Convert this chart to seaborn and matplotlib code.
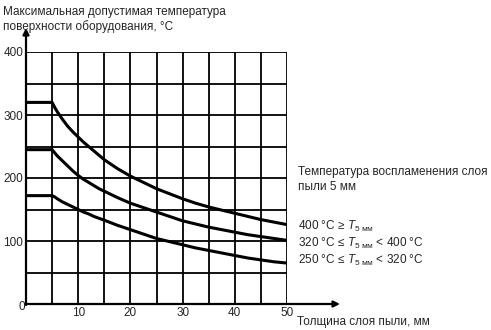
import matplotlib
matplotlib.use("Agg")
import matplotlib.pyplot as plt
import seaborn as sns
import pandas as pd

thickness = [0, 5, 5.5, 6, 7, 8, 9, 10, 11, 12, 13, 14, 15, 17.5, 20, 22.5,
             25, 27.5, 30, 32.5, 35, 37.5, 40, 42.5, 45, 47.5, 50]
t_high = [320, 320, 312, 305, 293, 282, 273, 265, 257, 250, 243, 236, 229, 215,
          203, 193, 183, 175, 167, 160, 154, 149, 144, 139, 134, 130, 126]
t_mid = [245, 245, 240, 235, 227, 219, 211, 204, 198, 193, 188, 183, 179, 169,
         160, 153, 146, 139, 132, 127, 122, 118, 114, 110, 107, 104, 101]
t_low = [172, 172, 170, 167, 162, 158, 154, 150, 146, 143, 139, 136, 133, 125,
         118, 111, 104, 99, 94, 89, 85, 81, 77, 73, 70, 67, 65]
series_names = ["400", "320-400", "250-320"]
legend_labels = [
    r"400 °C ≥ $\mathit{T}_{\mathrm{5\ мм}}$",
    r"320 °C ≤ $\mathit{T}_{\mathrm{5\ мм}}$ < 400 °C",
    r"250 °C ≤ $\mathit{T}_{\mathrm{5\ мм}}$ < 320 °C",
]
x_ticks = [0, 5, 10, 15, 20, 25, 30, 35, 40, 45, 50]
x_labels = ["", "", "10", "", "20", "", "30", "", "40", "", "50"]
y_ticks = [0, 50, 100, 150, 200, 250, 300, 350, 400]
y_labels = ["", "", "100", "", "200", "", "300", "", "400"]

df = pd.concat([
    pd.DataFrame({"x": thickness, "y": vals, "s": name})
    for name, vals in zip(series_names, [t_high, t_mid, t_low])
])

sns.set_style("white")
plt.rcParams["font.family"] = ["Liberation Sans", "DejaVu Sans"]
plt.rcParams["mathtext.fontset"] = "custom"
plt.rcParams["mathtext.rm"] = "Liberation Sans"
plt.rcParams["mathtext.it"] = "Liberation Sans:italic"

fig = plt.figure(figsize=(4.91, 3.30), dpi=100)
ax = fig.add_axes([26/491, 1-304/330, (287-26)/491, (304-52)/330])
sns.lineplot(data=df, x="x", y="y", hue="s", palette=["black"]*3,
             legend=False, ax=ax, linewidth=2.2)
ax.set_xlim(0, 50)
ax.set_ylim(0, 400)
ax.set_xticks(x_ticks)
ax.set_xticklabels(x_labels)
ax.set_yticks(y_ticks)
ax.set_yticklabels(y_labels)
ax.tick_params(length=0, labelsize=8.5, pad=2)
ax.grid(True, color="black", linewidth=1.3)
for s in ax.spines.values():
    s.set_visible(False)
ax.set_xlabel("")
ax.set_ylabel("")

fs = 8.5
# arrows for axes
ax.annotate("", xy=(26/491, 1-28/330), xycoords="figure fraction",
            xytext=(26/491, 1-305/330), textcoords="figure fraction",
            arrowprops=dict(arrowstyle="-|>", color="black", lw=1.6, mutation_scale=9, shrinkA=0, shrinkB=0))
ax.annotate("", xy=(340/491, 1-304/330), xycoords="figure fraction",
            xytext=(25/491, 1-304/330), textcoords="figure fraction",
            arrowprops=dict(arrowstyle="-|>", color="black", lw=1.6, mutation_scale=9, shrinkA=0, shrinkB=0))

fig.text(22/491, 1-307/330, "0", fontsize=fs, ha="center", va="center")
fig.text(3/491, 1-12/330, "Максимальная допустимая температура", fontsize=fs, va="center")
fig.text(3/491, 1-27/330, "поверхности оборудования, °С", fontsize=fs, va="center")
fig.text(297/491, 1-322/330, "Толщина слоя пыли, мм", fontsize=fs, va="center")
fig.text(298/491, 1-172/330, "Температура воспламенения слоя", fontsize=fs, va="center")
fig.text(298/491, 1-187/330, "пыли 5 мм", fontsize=fs, va="center")
for yy, lab in zip([226, 243, 260], legend_labels):
    fig.text(298/491, 1-yy/330, lab, fontsize=fs, va="center")

fig.savefig("out.png", dpi=100)
